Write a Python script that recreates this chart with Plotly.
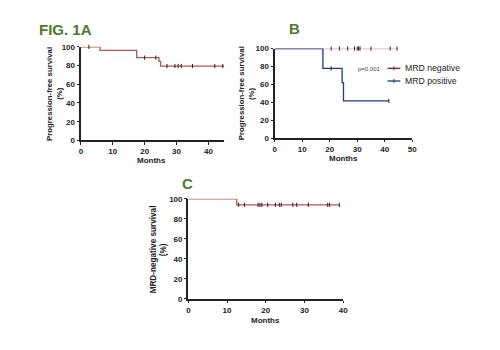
import plotly.graph_objects as go

# Panel A: progression-free survival (all)
a_time = [0, 6, 17.5, 24.5, 25, 45]
a_surv = [100, 96.3, 88.5, 84.5, 79.5, 79.5]
a_cens_t = [2.5, 20, 23.5, 27, 29.5, 30.5, 31.5, 35, 42, 44.5]
a_cens_s = [100, 88.5, 88.5, 79.5, 79.5, 79.5, 79.5, 79.5, 79.5, 79.5]

# Panel B: MRD negative / positive
bn_time = [0, 45]
bn_surv = [100, 100]
bn_cens_t = [20.5, 23.5, 26.5, 29, 30, 30.5, 31, 35, 42, 44.5]
bn_cens_s = [100] * 10
bp_time = [0, 17.5, 24.5, 25, 41.5]
bp_surv = [100, 77.8, 62, 41.5, 41.5]
bp_cens_t = [20.5, 41.5]
bp_cens_s = [77.8, 41.5]

# Panel C: MRD-negative survival
c_time = [0, 12.5, 39]
c_surv = [100, 94, 94]
c_cens_t = [13, 14.5, 18, 18.5, 19, 20.5, 22.5, 23.5, 24, 27, 28, 31, 36, 36.5, 39]
c_cens_s = [94] * 15

y_ticks = [0, 20, 40, 60, 80, 100]
legend_names = ["MRD negative", "MRD positive"]

RED = "#c0504d"
PINK = "#ddb0b0"
DARKRED = "#8b1a1a"
BLUE = "#1f3a8a"
GREEN = "#4a7a2a"
INK = "#222222"
FONT = "Liberation Sans, Arial, sans-serif"

fig = go.Figure()

def km(t, s, ct, cs, color, xa, ya, width=1.3):
    fig.add_trace(go.Scatter(x=t, y=s, mode="lines", line=dict(color=color, width=width, shape="hv"),
                             xaxis=xa, yaxis=ya, showlegend=False, cliponaxis=False, hoverinfo="skip"))
    fig.add_trace(go.Scatter(x=ct, y=cs, mode="markers",
                             marker=dict(symbol="line-ns-open", size=3, color=INK,
                                         line=dict(color=INK, width=1)),
                             xaxis=xa, yaxis=ya, showlegend=False, cliponaxis=False, hoverinfo="skip"))

km(a_time, a_surv, a_cens_t, a_cens_s, RED, "x", "y")
km(bn_time, bn_surv, bn_cens_t, bn_cens_s, PINK, "x2", "y2")
km(bp_time, bp_surv, bp_cens_t, bp_cens_s, BLUE, "x2", "y2")
km(c_time, c_surv, c_cens_t, c_cens_s, RED, "x3", "y3")

W, H = 500, 350
def dx(a, b): return [a / W, b / W]
def dy(top, bot): return [1 - bot / H, 1 - top / H]

axcommon = dict(showline=True, linecolor=INK, linewidth=1.5, ticks="outside", ticklen=2.5,
                tickwidth=1.2, tickcolor=INK, showgrid=False, zeroline=False,
                tickfont=dict(family=FONT, size=8, color=INK, weight="bold"))

fig.update_layout(
    width=W, height=H, margin=dict(l=0, r=0, t=0, b=0),
    paper_bgcolor="white", plot_bgcolor="white",
    xaxis=dict(domain=dx(80, 225.5), range=[0, 45], tickvals=[0, 10, 20, 30, 40], anchor="y", **axcommon),
    yaxis=dict(domain=dy(44, 140), range=[0, 100], tickvals=y_ticks, anchor="x", **axcommon),
    xaxis2=dict(domain=dx(276.7, 416), range=[0, 50], tickvals=[0, 10, 20, 30, 40, 50], anchor="y2", **axcommon),
    yaxis2=dict(domain=dy(45.7, 137.7), range=[0, 100], tickvals=y_ticks, anchor="x2", **axcommon),
    xaxis3=dict(domain=dx(189, 346), range=[0, 40], tickvals=[0, 10, 20, 30, 40], anchor="y3", **axcommon),
    yaxis3=dict(domain=dy(200, 302.7), range=[0, 100], tickvals=y_ticks, anchor="x3", **axcommon),
    showlegend=False,
    font=dict(family=FONT),
)

def ann(text, x, y, size=8, bold=True, color=INK, angle=0, xanchor="center"):
    fig.add_annotation(text=f"<b>{text}</b>" if bold else text, x=x / W, y=1 - y / H,
                       xref="paper", yref="paper", showarrow=False, textangle=angle,
                       font=dict(family=FONT, size=size, color=color), xanchor=xanchor, yanchor="middle",
                       borderpad=0)

# panel titles
ann("FIG. 1A", 64, 26, size=15, color=GREEN)
ann("B", 297, 25, size=15, color=GREEN)
ann("C", 188, 184, size=15, color=GREEN)
# axis titles
ann("Months", 152, 161)
ann("Months", 346, 159)
ann("Months", 267, 325)
ann("Progression-free survival", 48, 92, size=7.8, angle=-90)
ann("(%)", 58, 92, size=7.8, angle=-90)
ann("Progression-free survival", 243, 92, size=7.8, angle=-90)
ann("(%)", 253, 92, size=7.8, angle=-90)
ann("MRD-negative survival", 154, 252, size=8.2, angle=-90)
ann("(%)", 164, 252, size=8.2, angle=-90)
ann("p=0,001", 373, 67, size=6, bold=False, color="#444")

# manual legend (GraphPad style)
for name, col, yy in zip(legend_names, [DARKRED, BLUE], [66, 79]):
    fig.add_shape(type="line", xref="paper", yref="paper", x0=391 / W, x1=404 / W,
                  y0=1 - yy / H, y1=1 - yy / H, line=dict(color=col, width=1.3))
    fig.add_shape(type="line", xref="paper", yref="paper", x0=397.5 / W, x1=397.5 / W,
                  y0=1 - (yy - 2) / H, y1=1 - (yy + 2) / H, line=dict(color=col, width=1))
    ann(name, 408, yy, size=8.7, bold=False, color=INK, xanchor="left")

fig.write_html("out.html")
